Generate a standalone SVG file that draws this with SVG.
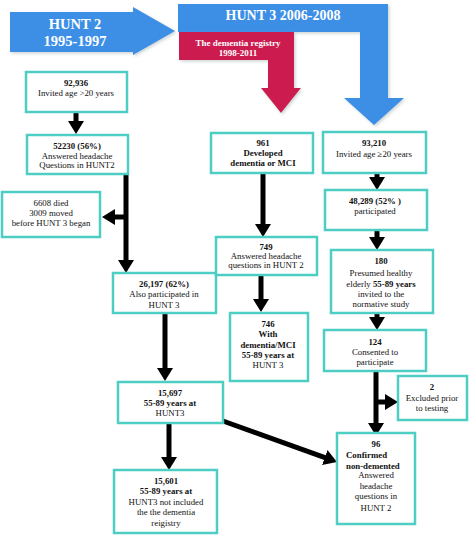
<svg xmlns="http://www.w3.org/2000/svg" width="473" height="535" viewBox="0 0 473 535">
<style>
.box{fill:#fff;stroke:#4ecdc4;stroke-width:2.5}
.t{font-family:"Liberation Serif","Times New Roman",serif;font-size:8.8px;fill:#111;text-anchor:middle}
.b{font-weight:bold}
.s{text-anchor:start}
.big{font-family:"Liberation Serif","Times New Roman",serif;font-weight:bold;fill:#fff;text-anchor:middle}
.con{stroke:#000;stroke-width:5;fill:none}
</style>
<defs>
<marker id="ah" markerUnits="userSpaceOnUse" markerWidth="13" markerHeight="16" viewBox="0 0 13 16" refX="1" refY="8" orient="auto">
<path d="M0,0 L13,8 L0,16 z" fill="#000"/>
</marker>
<filter id="sh" x="-10%" y="-10%" width="130%" height="130%">
<feDropShadow dx="1.5" dy="1.5" stdDeviation="1.5" flood-color="#9aa" flood-opacity="0.5"/>
</filter>
</defs>
<g id="banner-hunt2">
<polygon points="10,12 133,12 133,7 175,31 133,55 133,52 10,52" fill="#3c8fe6" filter="url(#sh)"/>
<text class="big" x="75" y="29" font-size="14.5">HUNT 2</text>
<text class="big" x="75" y="46" font-size="14.5">1995-1997</text>
</g>
<g id="banner-hunt3">
<polygon points="178,4 388,4 388,98 404,98 374,125 344,98 360,98 360,32 178,32" fill="#3c8fe6" filter="url(#sh)"/>
<text class="big" x="283" y="20" font-size="14">HUNT 3 2006-2008</text>
</g>
<g id="banner-registry">
<polygon points="179,32 294,32 294,88 301,88 281,113 261,88 268,88 268,60 179,60" fill="#cc1f4f" filter="url(#sh)"/>
<text class="big" x="238" y="46" font-size="9">The dementia registry</text>
<text class="big" x="238" y="56" font-size="9">1998-2011</text>
</g>
<g id="connectors">
<line class="con" x1="76" y1="112" x2="76" y2="122" marker-end="url(#ah)"/>
<line class="con" x1="126" y1="174" x2="126" y2="261" marker-end="url(#ah)"/>
<line class="con" x1="126" y1="217" x2="114" y2="217" marker-end="url(#ah)"/>
<line class="con" x1="263" y1="173" x2="263" y2="225" marker-end="url(#ah)"/>
<line class="con" x1="261" y1="275" x2="261" y2="300" marker-end="url(#ah)"/>
<line class="con" x1="165" y1="313" x2="165" y2="369" marker-end="url(#ah)"/>
<line class="con" x1="169" y1="423" x2="169" y2="458" marker-end="url(#ah)"/>
<line class="con" x1="223" y1="421" x2="325.7" y2="457.9" marker-end="url(#ah)"/>
<line class="con" x1="377" y1="173" x2="377" y2="178" marker-end="url(#ah)"/>
<line class="con" x1="377" y1="230" x2="377" y2="238" marker-end="url(#ah)"/>
<line class="con" x1="377" y1="313" x2="377" y2="318" marker-end="url(#ah)"/>
<line class="con" x1="376" y1="371" x2="376" y2="424" marker-end="url(#ah)"/>
<line class="con" x1="376" y1="402" x2="386" y2="402" marker-end="url(#ah)"/>
</g>
<g id="n-invited-h2">
<rect class="box" x="26" y="72" width="101" height="40"/>
<text class="t b" x="76" y="86">92,936</text>
<text class="t" x="76" y="96">Invited age &gt;20 years</text>
</g>
<g id="n-answered-h2">
<rect class="box" x="27" y="135" width="101" height="39"/>
<text class="t b" x="77" y="149">52230 (56%)</text>
<text class="t" x="77" y="159">Answered headache</text>
<text class="t" x="77" y="168">Questions in HUNT2</text>
</g>
<g id="n-died">
<rect class="box" x="2" y="192" width="98" height="45"/>
<text class="t" x="51" y="206">6608 died</text>
<text class="t" x="51" y="216">3009 moved</text>
<text class="t" x="51" y="226">before HUNT 3 began</text>
</g>
<g id="n-also-h3">
<rect class="box" x="113" y="273" width="103" height="40"/>
<text class="t b" x="164" y="287">26,197 (62%)</text>
<text class="t" x="164" y="297">Also participated in</text>
<text class="t" x="164" y="308">HUNT 3</text>
</g>
<g id="n-15697">
<rect class="box" x="118" y="382" width="105" height="41"/>
<text class="t b" x="170" y="396">15,697</text>
<text class="t b" x="170" y="406">55-89 years at</text>
<text class="t" x="170" y="416">HUNT3</text>
</g>
<g id="n-15601">
<rect class="box" x="114" y="470" width="103" height="63"/>
<text class="t b" x="166" y="484">15,601</text>
<text class="t b" x="166" y="494">55-89 years at</text>
<text class="t" x="166" y="505">HUNT3 not included</text>
<text class="t" x="166" y="515">the the dementia</text>
<text class="t" x="166" y="526">reigistry</text>
</g>
<g id="n-961">
<rect class="box" x="211" y="133" width="102" height="40"/>
<text class="t b" x="263" y="146">961</text>
<text class="t b" x="263" y="156">Developed</text>
<text class="t b" x="263" y="166">dementia or MCI</text>
</g>
<g id="n-749">
<rect class="box" x="216" y="237" width="101" height="38"/>
<text class="t b" x="266" y="250">749</text>
<text class="t" x="266" y="259">Answered headache</text>
<text class="t" x="266" y="268">questions in HUNT 2</text>
</g>
<g id="n-746">
<rect class="box" x="230" y="313" width="78" height="68"/>
<text class="t b" x="268" y="327">746</text>
<text class="t b" x="268" y="337">With</text>
<text class="t b" x="268" y="348">dementia/MCI</text>
<text class="t b" x="268" y="358">55-89 years at</text>
<text class="t" x="268" y="368">HUNT 3</text>
</g>
<g id="n-93210">
<rect class="box" x="323" y="132" width="103" height="41"/>
<text class="t b" x="374" y="146">93,210</text>
<text class="t" x="374" y="157">Invited age ≥20 years</text>
</g>
<g id="n-48289">
<rect class="box" x="325" y="190" width="102" height="40"/>
<text class="t b" x="375" y="204">48,289 (52% )</text>
<text class="t" x="375" y="214">participated</text>
</g>
<g id="n-180">
<rect class="box" x="331" y="250" width="102" height="63"/>
<text class="t b" x="381" y="264">180</text>
<text class="t" x="381" y="276">Presumed healthy</text>
<text class="t" x="381" y="287">elderly <tspan class="b">55-89 years</tspan></text>
<text class="t" x="381" y="297">invited to the</text>
<text class="t" x="381" y="307">normative study</text>
</g>
<g id="n-124">
<rect class="box" x="324" y="330" width="102" height="41"/>
<text class="t b" x="375" y="345">124</text>
<text class="t" x="375" y="355">Consented to</text>
<text class="t" x="375" y="365">participate</text>
</g>
<g id="n-excluded">
<rect class="box" x="398" y="376" width="69" height="44"/>
<text class="t b" x="432" y="390">2</text>
<text class="t" x="432" y="401">Excluded prior</text>
<text class="t" x="432" y="411">to testing</text>
</g>
<g id="n-96">
<rect class="box" x="337" y="433" width="78" height="91"/>
<text class="t b" x="376" y="447">96</text>
<text class="t b s" x="346" y="458">Confirmed</text>
<text class="t b s" x="346" y="469">non-demented</text>
<text class="t" x="376" y="478">Answered</text>
<text class="t" x="376" y="489">headache</text>
<text class="t" x="376" y="499">questions in</text>
<text class="t" x="376" y="511">HUNT 2</text>
</g>
</svg>
